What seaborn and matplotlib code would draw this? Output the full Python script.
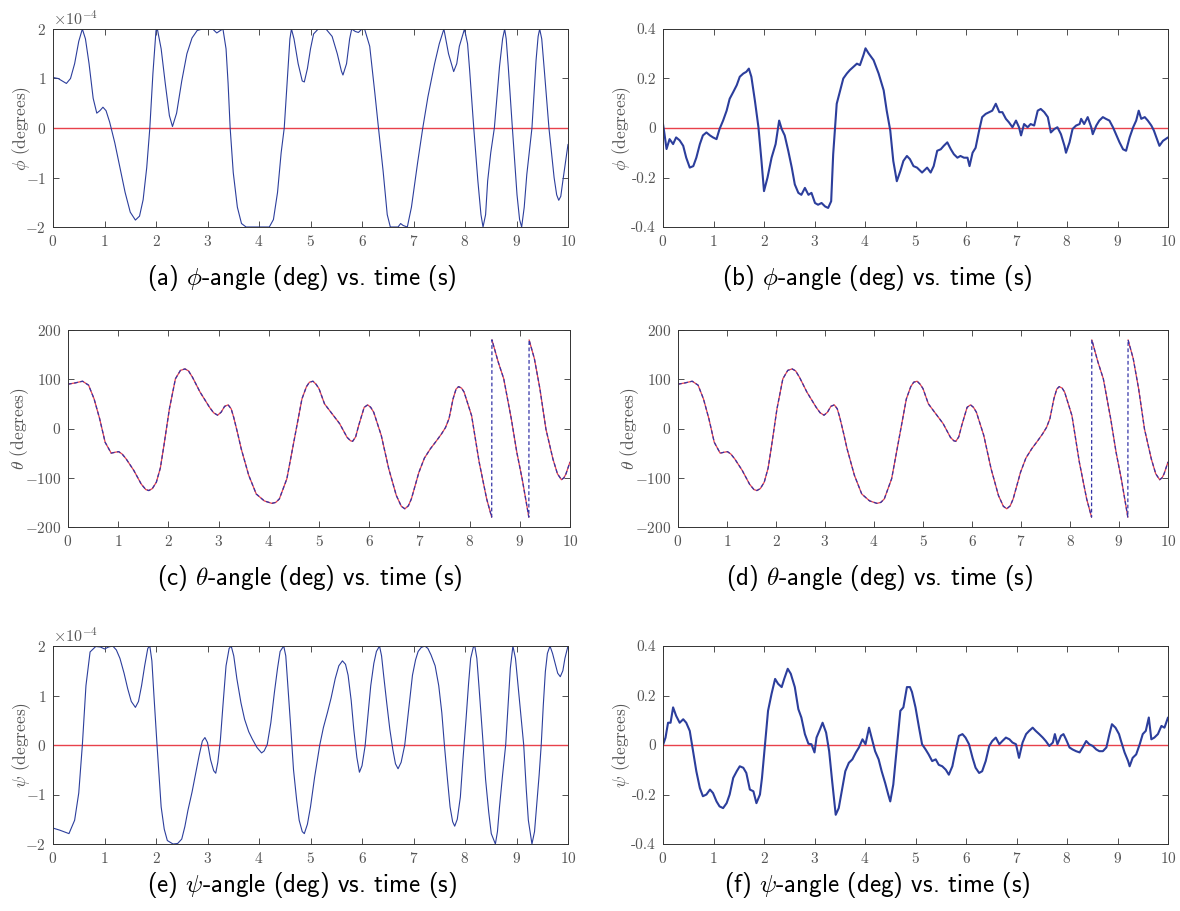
import numpy as np
import matplotlib
matplotlib.use("Agg")
import matplotlib.pyplot as plt
import seaborn as sns

# ── données ─────────────────────────────────────────────────────
# (a) phi, régulateur 1 (unités 1e-4 deg)
t_phi_a = [0, 0.005, 0.1, 0.18, 0.26, 0.34, 0.42, 0.5, 0.57, 0.63, 0.7, 0.78, 0.85, 0.91,
           0.97, 1.03, 1.1, 1.2, 1.3, 1.4, 1.5, 1.6, 1.68, 1.75, 1.82, 1.88, 1.94, 2.0,
           2.03, 2.1, 2.18, 2.26, 2.32, 2.4, 2.5, 2.6, 2.7, 2.8, 2.9, 3.0, 3.1, 3.18, 3.25,
           3.3, 3.36, 3.4, 3.44, 3.5, 3.58, 3.66, 3.75, 4.2, 4.28, 4.36, 4.43, 4.49, 4.55,
           4.6, 4.63, 4.68, 4.76, 4.84, 4.88, 4.94, 5.0, 5.06, 5.15, 5.3, 5.42, 5.52, 5.6,
           5.63, 5.7, 5.76, 5.8, 5.87, 5.93, 6.0, 6.05, 6.15, 6.25, 6.32, 6.41, 6.49, 6.55,
           6.7, 6.75, 6.8, 6.88, 6.96, 7.08, 7.18, 7.28, 7.41, 7.5, 7.59, 7.68, 7.78, 7.84,
           7.89, 7.99, 8.05, 8.09, 8.17, 8.25, 8.31, 8.35, 8.4, 8.44, 8.5, 8.57, 8.67, 8.73,
           8.77, 8.8, 8.84, 8.92, 9.01, 9.06, 9.1, 9.15, 9.2, 9.3, 9.38, 9.42, 9.45, 9.49,
           9.54, 9.63, 9.73, 9.78, 9.82, 9.86, 9.9, 9.95, 10.0]
phi_a = [0, 1.02, 1.0, 0.95, 0.9, 1.0, 1.3, 1.75, 2.0, 1.8, 1.3, 0.6, 0.3, 0.35,
         0.42, 0.35, 0.12, -0.3, -0.8, -1.3, -1.7, -1.86, -1.78, -1.45, -0.8, 0.0, 1.1, 1.97,
         1.98, 1.6, 0.9, 0.25, 0.03, 0.3, 0.95, 1.5, 1.82, 1.97, 2.0, 2.0, 2.0, 1.92, 1.97,
         2.0, 1.6, 0.9, 0.0, -0.9, -1.6, -1.93, -2.0, -2.0, -1.85, -1.3, -0.5, 0.0, 1.0,
         1.8, 2.0, 1.8, 1.3, 0.95, 0.93, 1.2, 1.6, 1.9, 2.0, 2.0, 1.85, 1.5, 1.15,
         1.07, 1.3, 1.8, 2.0, 1.95, 1.93, 2.0, 2.0, 1.65, 0.7, 0.0, -0.87, -1.75, -2.0,
         -2.0, -1.93, -1.97, -2.0, -1.6, -0.7, 0.0, 0.63, 1.3, 1.7, 2.0, 1.5, 1.14, 1.3,
         1.65, 2.0, 1.7, 1.17, 0.0, -1.07, -1.75, -2.0, -1.75, -1.07, -0.5, 0.0, 1.24, 1.8,
         2.0, 1.8, 1.24, 0.0, -1.35, -1.85, -2.0, -1.6, -0.94, 0.0, 1.37, 1.85, 2.0, 1.8,
         1.17, 0.0, -1.0, -1.35, -1.46, -1.38, -1.07, -0.7, -0.33]

# (b) phi, régulateur 2 (deg)
t_phi_b = [0, 0.03, 0.07, 0.13, 0.2, 0.26, 0.33, 0.4, 0.46, 0.53, 0.6, 0.66, 0.73, 0.79,
           0.86, 0.93, 0.99, 1.06, 1.12, 1.19, 1.26, 1.32, 1.39, 1.46, 1.52, 1.59, 1.65,
           1.7, 1.75, 1.82, 1.89, 1.95, 2.0, 2.07, 2.15, 2.23, 2.3, 2.35, 2.41, 2.48, 2.55,
           2.61, 2.68, 2.74, 2.81, 2.88, 2.94, 3.01, 3.07, 3.14, 3.21, 3.27, 3.33, 3.37,
           3.44, 3.51, 3.57, 3.64, 3.7, 3.77, 3.84, 3.9, 3.97, 4.01, 4.07, 4.17, 4.27, 4.37,
           4.43, 4.5, 4.56, 4.63, 4.7, 4.76, 4.83, 4.89, 4.96, 5.03, 5.13, 5.23, 5.3, 5.36,
           5.43, 5.5, 5.56, 5.63, 5.7, 5.76, 5.83, 5.89, 5.96, 6.03, 6.07, 6.13, 6.19, 6.26,
           6.32, 6.39, 6.46, 6.52, 6.59, 6.66, 6.72, 6.79, 6.85, 6.92, 6.99, 7.05, 7.09,
           7.15, 7.22, 7.28, 7.35, 7.42, 7.48, 7.55, 7.62, 7.68, 7.75, 7.81, 7.88, 7.95,
           7.98, 8.05, 8.11, 8.18, 8.25, 8.28, 8.34, 8.41, 8.48, 8.51, 8.58, 8.64, 8.71,
           8.77, 8.84, 8.91, 8.97, 9.04, 9.11, 9.17, 9.24, 9.31, 9.37, 9.42, 9.47, 9.54,
           9.6, 9.67, 9.72, 9.77, 9.83, 9.9, 10.0]
phi_b = [0.016, -0.025, -0.085, -0.045, -0.065, -0.038, -0.05, -0.072, -0.12, -0.16,
         -0.154, -0.12, -0.065, -0.03, -0.018, -0.03, -0.038, -0.045, -0.004, 0.03, 0.07,
         0.118, 0.145, 0.173, 0.207, 0.22, 0.227, 0.24, 0.207, 0.11, 0.003, -0.133, -0.255,
         -0.2, -0.12, -0.065, 0.03, -0.004, -0.03, -0.092, -0.16, -0.228, -0.262, -0.27,
         -0.242, -0.27, -0.262, -0.303, -0.31, -0.303, -0.317, -0.323, -0.296, -0.106,
         0.098, 0.152, 0.2, 0.22, 0.234, 0.247, 0.26, 0.254, 0.295, 0.322, 0.302, 0.274,
         0.22, 0.152, 0.07, -0.01, -0.133, -0.215, -0.174, -0.133, -0.113, -0.126, -0.154,
         -0.16, -0.18, -0.16, -0.18, -0.154, -0.092, -0.086, -0.072, -0.058, -0.086, -0.106,
         -0.12, -0.113, -0.12, -0.12, -0.154, -0.1, -0.08, -0.01, 0.044, 0.057, 0.064,
         0.07, 0.098, 0.064, 0.064, 0.037, 0.023, 0.003, 0.03, 0.003, -0.03, 0.016, 0.003,
         0.016, 0.01, 0.07, 0.077, 0.064, 0.044, -0.018, -0.004, 0.003, -0.025, -0.072,
         -0.1, -0.058, -0.004, 0.01, 0.016, 0.037, 0.016, 0.044, 0.003, -0.025, 0.01, 0.03,
         0.044, 0.037, 0.03, 0.003, -0.025, -0.058, -0.086, -0.092, -0.038, 0.003, 0.03,
         0.07, 0.037, 0.044, 0.03, 0.01, -0.01, -0.038, -0.072, -0.052, -0.038]

# (c), (d) theta (deg)
t_theta = [0, 0.14, 0.29, 0.41, 0.52, 0.63, 0.74, 0.86, 0.95, 1.01, 1.08, 1.16, 1.31, 1.46,
           1.55, 1.61, 1.68, 1.76, 1.84, 1.91, 2.02, 2.14, 2.24, 2.33, 2.4, 2.48, 2.63, 2.82,
           2.9, 2.98, 3.05, 3.12, 3.19, 3.25, 3.3, 3.38, 3.45, 3.6, 3.75, 3.91, 4.06, 4.14,
           4.21, 4.36, 4.51, 4.66, 4.75, 4.81, 4.88, 4.94, 5.0, 5.11, 5.26, 5.41, 5.56, 5.63,
           5.67, 5.73, 5.79, 5.9, 5.97, 6.03, 6.09, 6.24, 6.39, 6.54, 6.64, 6.71, 6.78, 6.84,
           6.99, 7.1, 7.22, 7.34, 7.44, 7.52, 7.59, 7.67, 7.73, 7.78, 7.84, 7.89, 8.04, 8.19,
           8.34, 8.44, 8.445, 8.57, 8.68, 8.83, 8.94, 9.05, 9.18, 9.185, 9.29, 9.4, 9.52,
           9.66, 9.75, 9.83, 9.88, 9.92, 10.0]
theta = [90, 92.5, 96, 88, 60, 20, -28, -50, -48, -47, -52, -62, -85, -113,
         -124, -126, -122, -109, -80, -35, 40, 101, 118, 121, 117, 104, 74, 43,
         32, 27, 33, 45, 48, 40, 23, -10, -41, -95, -133, -147, -152, -150,
         -143, -102, -21, 60, 85, 94, 96, 90, 81, 50, 30, 10, -18, -25,
         -26, -17, 6, 43, 48, 43, 33, -14, -82, -136, -158, -163, -157, -143,
         -89, -60, -41, -25, -11, 2, 20, 60, 80, 85, 82, 74, 26, -68,
         -143, -180, 180, 135, 101, 20, -48, -104, -180, 180, 142, 81, -1,
         -62, -92, -104, -100, -92, -68]

# (e) psi, régulateur 1 (unités 1e-4 deg)
t_psi_e = [0, 0.005, 0.13, 0.31, 0.42, 0.5, 0.57, 0.64, 0.72, 0.83, 0.92, 1.0, 1.08, 1.16,
           1.23, 1.3, 1.38, 1.45, 1.52, 1.6, 1.66, 1.72, 1.78, 1.84, 1.88, 1.92, 1.96, 2.02,
           2.1, 2.16, 2.22, 2.33, 2.42, 2.5, 2.56, 2.62, 2.7, 2.77, 2.84, 2.9, 2.95, 3.0,
           3.06, 3.12, 3.16, 3.2, 3.25, 3.3, 3.36, 3.42, 3.46, 3.51, 3.57, 3.65, 3.72, 3.8,
           3.87, 3.96, 4.05, 4.1, 4.16, 4.23, 4.3, 4.36, 4.41, 4.48, 4.52, 4.56, 4.62, 4.67,
           4.73, 4.78, 4.84, 4.88, 4.94, 5.0, 5.08, 5.18, 5.25, 5.33, 5.4, 5.48, 5.55, 5.62,
           5.68, 5.73, 5.79, 5.84, 5.9, 5.95, 6.0, 6.06, 6.12, 6.17, 6.23, 6.28, 6.34, 6.38,
           6.42, 6.48, 6.54, 6.6, 6.65, 6.7, 6.76, 6.83, 6.9, 6.98, 7.04, 7.09, 7.15, 7.22,
           7.28, 7.34, 7.42, 7.49, 7.55, 7.6, 7.66, 7.71, 7.76, 7.8, 7.85, 7.91, 7.96, 8.02,
           8.07, 8.11, 8.16, 8.19, 8.23, 8.27, 8.34, 8.4, 8.46, 8.51, 8.59, 8.63, 8.67, 8.73,
           8.79, 8.84, 8.88, 8.93, 8.98, 9.03, 9.09, 9.14, 9.19, 9.23, 9.3, 9.35, 9.39, 9.44,
           9.48, 9.52, 9.56, 9.6, 9.65, 9.7, 9.76, 9.8, 9.85, 9.9, 9.94, 10.0]
psi_e = [0, -1.68, -1.72, -1.79, -1.52, -0.97, 0.0, 1.2, 1.88, 1.99, 1.98, 1.94, 1.98, 2.0,
         1.92, 1.75, 1.45, 1.14, 0.88, 0.76, 0.88, 1.2, 1.6, 1.95, 2.0, 1.7, 1.0, 0.0,
         -1.25, -1.7, -1.93, -2.0, -1.99, -1.9, -1.65, -1.32, -0.95, -0.57, -0.2, 0.08, 0.15, 0.05,
         -0.3, -0.52, -0.57, -0.35, 0.1, 0.8, 1.6, 1.95, 2.0, 1.8, 1.34, 0.85, 0.52, 0.27,
         0.12, -0.05, -0.16, -0.12, 0.01, 0.45, 1.07, 1.55, 1.89, 2.0, 1.8, 1.2, 0.3, -0.5,
         -1.1, -1.52, -1.75, -1.79, -1.6, -1.25, -0.65, 0.0, 0.35, 0.66, 0.95, 1.34, 1.6, 1.7,
         1.63, 1.41, 0.9, 0.32, -0.25, -0.55, -0.42, -0.02, 0.65, 1.2, 1.65, 1.89, 2.0, 1.8,
         1.41, 0.85, 0.32, -0.1, -0.38, -0.48, -0.35, 0.0, 0.65, 1.41, 1.72, 1.89, 1.97, 2.0,
         1.95, 1.82, 1.6, 1.2, 0.65, 0.0, -0.7, -1.25, -1.55, -1.64, -1.5, -1.05, -0.3, 0.52,
         1.25, 1.75, 1.97, 2.0, 1.75, 1.2, 0.2, -0.7, -1.35, -1.79, -2.0, -1.75, -1.25, -0.6,
         0.0, 0.85, 1.55, 2.0, 1.75, 1.2, 0.55, 0.0, -0.9, -1.52, -2.0, -1.75, -1.25, -0.6,
         0.0, 0.8, 1.48, 1.85, 2.0, 1.85, 1.61, 1.45, 1.38, 1.5, 1.75, 2.0]

# (f) psi, régulateur 2 (deg)
t_psi_f = [0, 0.05, 0.1, 0.15, 0.2, 0.26, 0.33, 0.4, 0.46, 0.53, 0.6, 0.66, 0.73, 0.79,
           0.86, 0.93, 0.99, 1.06, 1.12, 1.19, 1.26, 1.32, 1.39, 1.46, 1.52, 1.59, 1.65,
           1.72, 1.79, 1.85, 1.92, 1.96, 2.02, 2.08, 2.15, 2.22, 2.28, 2.35, 2.4, 2.47, 2.53,
           2.61, 2.68, 2.74, 2.81, 2.88, 2.94, 3.0, 3.04, 3.11, 3.16, 3.23, 3.29, 3.35, 3.42,
           3.48, 3.55, 3.61, 3.68, 3.75, 3.82, 3.88, 3.95, 4.01, 4.08, 4.13, 4.2, 4.27, 4.33,
           4.4, 4.46, 4.5, 4.56, 4.63, 4.7, 4.76, 4.83, 4.89, 4.93, 5.0, 5.07, 5.13, 5.2,
           5.26, 5.33, 5.4, 5.46, 5.53, 5.6, 5.66, 5.73, 5.79, 5.86, 5.93, 5.99, 6.06, 6.13,
           6.19, 6.26, 6.32, 6.39, 6.46, 6.52, 6.59, 6.66, 6.72, 6.79, 6.86, 6.92, 6.99, 7.05,
           7.12, 7.19, 7.25, 7.32, 7.38, 7.45, 7.52, 7.58, 7.65, 7.72, 7.76, 7.81, 7.88, 7.93,
           7.98, 8.05, 8.11, 8.18, 8.25, 8.31, 8.38, 8.44, 8.51, 8.58, 8.64, 8.71, 8.78, 8.84,
           8.89, 8.96, 9.03, 9.07, 9.14, 9.21, 9.24, 9.3, 9.37, 9.44, 9.5, 9.56, 9.62, 9.67,
           9.73, 9.8, 9.87, 9.93, 10.0]
psi_f = [0, 0.03, 0.09, 0.09, 0.152, 0.118, 0.09, 0.104, 0.09, 0.057, -0.03, -0.106, -0.174,
         -0.207, -0.2, -0.18, -0.194, -0.228, -0.248, -0.255, -0.235, -0.2, -0.133, -0.106,
         -0.086, -0.092, -0.113, -0.18, -0.187, -0.235, -0.2, -0.133, 0.003, 0.138, 0.207,
         0.267, 0.247, 0.234, 0.267, 0.308, 0.288, 0.234, 0.145, 0.111, 0.044, 0.005, 0.003,
         -0.03, 0.03, 0.064, 0.09, 0.05, -0.025, -0.147, -0.282, -0.255, -0.174, -0.106,
         -0.072, -0.058, -0.03, -0.01, 0.023, 0.003, 0.07, 0.03, -0.025, -0.058, -0.106,
         -0.154, -0.2, -0.228, -0.16, -0.01, 0.138, 0.152, 0.234, 0.234, 0.214, 0.152, 0.07,
         0.003, -0.018, -0.038, -0.065, -0.058, -0.08, -0.086, -0.1, -0.12, -0.086, -0.025,
         0.037, 0.044, 0.03, 0.003, -0.052, -0.092, -0.113, -0.106, -0.065, -0.004, 0.016,
         0.03, 0.003, 0.016, 0.03, 0.023, 0.01, 0.003, -0.052, 0.01, 0.044, 0.057, 0.07,
         0.057, 0.044, 0.03, 0.016, -0.004, 0.01, 0.044, 0.003, 0.037, 0.044, 0.023, -0.01,
         -0.018, -0.025, -0.03, -0.01, 0.016, 0.003, -0.004, -0.018, -0.025, -0.025, -0.01,
         0.044, 0.084, 0.07, 0.044, 0.016, -0.03, -0.065, -0.086, -0.052, -0.038, 0.003,
         0.044, 0.057, 0.111, 0.023, 0.03, 0.044, 0.077, 0.07, 0.111]

xticks = list(range(0, 11))
captions = [r"(a) $\phi$-angle (deg) vs. time (s)", r"(b) $\phi$-angle (deg) vs. time (s)",
            r"(c) $\theta$-angle (deg) vs. time (s)", r"(d) $\theta$-angle (deg) vs. time (s)",
            r"(e) $\psi$-angle (deg) vs. time (s)", r"(f) $\psi$-angle (deg) vs. time (s)"]
ylabels = [r"$\phi$ (degrees)", r"$\phi$ (degrees)", r"$\theta$ (degrees)",
           r"$\theta$ (degrees)", r"$\psi$ (degrees)", r"$\psi$ (degrees)"]

# ── style ───────────────────────────────────────────────────────
sns.set_style("ticks")
plt.rcParams["font.family"] = ["cmr10", "DejaVu Serif"]
plt.rcParams["mathtext.fontset"] = "cm"
plt.rcParams["axes.unicode_minus"] = False
plt.rcParams["axes.formatter.use_mathtext"] = True

BLUE = "#2c3e9c"
RED = "#e8414b"
GREY = "#555555"

W, H = 1180, 911
fig = plt.figure(figsize=(W / 100, H / 100), dpi=100)


def px_axes(x0, y0, x1, y1):
    return fig.add_axes([x0 / W, 1 - y1 / H, (x1 - x0) / W, (y1 - y0) / H])


def style(ax, label, x0, x1, label_x):
    ax.set_xlim(0, 10)
    ax.set_xticks(xticks)
    ax.tick_params(direction="in", top=True, right=True, length=4, width=0.6,
                   color="#333333", labelcolor=GREY, labelsize=11, pad=5)
    for s in ax.spines.values():
        s.set_linewidth(0.7)
        s.set_color("#333333")
    ax.set_xlabel("")
    ax.set_ylabel(label, color=GREY, fontsize=12.5, va="center")
    ax.yaxis.set_label_coords((label_x - x0) / (x1 - x0), 0.5)


rects = [(53, 29, 568, 227), (663, 29, 1168, 227),
         (68, 330, 570, 527), (678, 330, 1168, 527),
         (53, 646, 568, 844), (663, 646, 1168, 844)]
label_xs = [22, 622, 20, 630, 22, 622]
axes = [px_axes(*r) for r in rects]

# (a) et (e) : petites valeurs, notation scientifique
for ax, t, v in [(axes[0], t_phi_a, phi_a), (axes[4], t_psi_e, psi_e)]:
    ax.axhline(0, color=RED, lw=1.0)
    sns.lineplot(x=t, y=np.array(v) * 1e-4, ax=ax, color=BLUE, lw=0.8,
                 estimator=None, sort=False)
    ax.set_ylim(-2e-4, 2e-4)
    ax.set_yticks([-2e-4, -1e-4, 0, 1e-4, 2e-4])
    ax.ticklabel_format(axis="y", style="sci", scilimits=(0, 0), useMathText=True)
    ax.yaxis.get_offset_text().set_color(GREY)
    ax.yaxis.get_offset_text().set_fontsize(11.5)

# (b) et (f) : signaux bruités
for ax, t, v in [(axes[1], t_phi_b, phi_b), (axes[5], t_psi_f, psi_f)]:
    ax.axhline(0, color=RED, lw=1.0)
    sns.lineplot(x=t, y=v, ax=ax, color=BLUE, lw=1.5, estimator=None, sort=False)
    ax.set_ylim(-0.4, 0.4)
    ax.set_yticks([-0.4, -0.2, 0, 0.2, 0.4])
    ax.set_yticklabels(["-0.4", "-0.2", "0", "0.2", "0.4"])

# (c) et (d) : theta, consigne (rouge) + réponse (bleu pointillé)
th = np.array(theta)
tt = np.array(t_theta)
cuts = np.where(np.abs(np.diff(th)) > 300)[0] + 1
for ax in (axes[2], axes[3]):
    for seg_t, seg_v in zip(np.split(tt, cuts), np.split(th, cuts)):
        sns.lineplot(x=seg_t, y=seg_v, ax=ax, color=RED, lw=0.9,
                     estimator=None, sort=False)
    sns.lineplot(x=tt, y=th, ax=ax, color="#3535a8", lw=0.9, linestyle=(0, (3, 2)),
                 estimator=None, sort=False)
    ax.set_ylim(-200, 200)
    ax.set_yticks([-200, -100, 0, 100, 200])

for ax, lab, r, lx in zip(axes, ylabels, rects, label_xs):
    style(ax, lab, r[0], r[2], lx)

# légendes des sous-figures
cap_pos = [(302, 278), (877, 278), (310, 578), (880, 578), (302, 885), (877, 885)]
for (cx, cy), txt in zip(cap_pos, captions):
    fig.text(cx / W, 1 - cy / H, txt, ha="center", va="center", fontsize=18,
             family=["cmss10", "DejaVu Sans"], color="black")

plt.savefig("out.png", dpi=100)
